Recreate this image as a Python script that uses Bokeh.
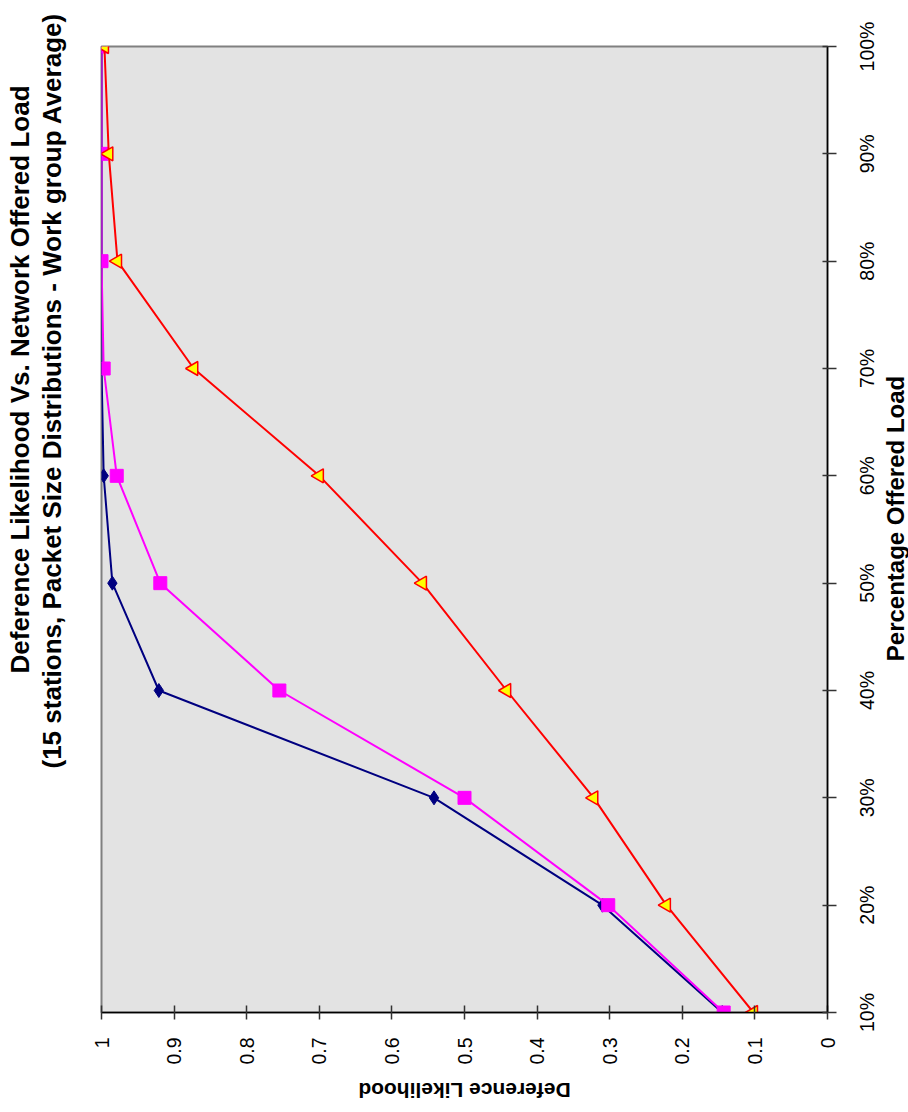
import math
from bokeh.plotting import figure
from bokeh.models import Range1d, FixedTicker, Title, Label
from bokeh.embed import file_html
from bokeh.resources import INLINE

# ---- data ----
offered_load = [10, 20, 30, 40, 50, 60, 70, 80, 90, 100]  # percent
series_a = [0.145, 0.310, 0.542, 0.921, 0.985, 0.997, 1.0, 1.0, 1.0, 1.0]     # navy diamonds
series_b = [0.143, 0.302, 0.500, 0.755, 0.919, 0.979, 0.997, 1.0, 1.0, 1.0]   # magenta squares
series_c = [0.102, 0.222, 0.322, 0.442, 0.558, 0.700, 0.873, 0.978, 0.990, 0.996]  # red triangles

likelihood_ticks = [0, 0.1, 0.2, 0.3, 0.4, 0.5, 0.6, 0.7, 0.8, 0.9, 1.0]
likelihood_labels = ["0", "0.1", "0.2", "0.3", "0.4", "0.5", "0.6", "0.7", "0.8", "0.9", "1"]
load_ticks = [10, 20, 30, 40, 50, 60, 70, 80, 90, 100]
load_labels = ["10%", "20%", "30%", "40%", "50%", "60%", "70%", "80%", "90%", "100%"]

title_line1 = "Deference Likelihood Vs. Network Offered Load"
title_line2 = "(15 stations, Packet Size Distributions - Work group Average)"
x_title = "Deference Likelihood"
y_title = "Percentage Offered Load"

FONT = "Liberation Sans"

p = figure(frame_width=726, frame_height=966,
           x_range=Range1d(1, 0), y_range=Range1d(10, 100),
           x_axis_location="below", y_axis_location="right",
           toolbar_location=None, output_backend="svg",
           min_border_left=101, min_border_right=81,
           min_border_top=46, min_border_bottom=100,
           title=None)

p.background_fill_color = "#E3E3E3"
p.border_fill_color = "white"
p.outline_line_color = "#808080"
p.outline_line_width = 2
p.grid.visible = False

# titles (rotated, on the left); a thin spacer keeps them away from the frame
spacer = Title(text=" ", text_font_size="1px", standoff=32, text_color="white")
t2 = Title(text=title_line2, align="left", offset=244, text_font=FONT,
           text_font_size="26px", text_font_style="bold", text_color="black",
           standoff=0)
t1 = Title(text=title_line1, align="left", offset=339, text_font=FONT,
           text_font_size="26px", text_font_style="bold", text_color="black",
           standoff=0)
p.add_layout(spacer, "left")
p.add_layout(t2, "left")
p.add_layout(t1, "left")

# bottom axis (likelihood, reversed)
xa = p.xaxis[0]
xa.ticker = FixedTicker(ticks=likelihood_ticks)
xa.major_label_overrides = {t: l for t, l in zip(likelihood_ticks, likelihood_labels)}
xa.major_label_orientation = math.pi / 2
xa.major_label_text_font = FONT
xa.major_label_text_font_size = "19.5px"
xa.major_label_text_color = "black"
xa.major_label_standoff = 18
xa.axis_line_color = "black"
xa.axis_line_width = 1.5
xa.major_tick_in = 7
xa.major_tick_out = 7
xa.major_tick_line_color = "#333333"
xa.major_tick_line_width = 1.5
xa.minor_tick_line_color = None

# right axis (offered load); tick labels drawn as centred rotated labels
ya = p.yaxis[0]
ya.ticker = FixedTicker(ticks=load_ticks)
ya.major_label_overrides = {t: "" for t in load_ticks}
ya.axis_line_color = "black"
ya.axis_line_width = 1.5
ya.major_tick_in = 5
ya.major_tick_out = 9
ya.major_tick_line_color = "#333333"
ya.major_tick_line_width = 1.5
ya.minor_tick_line_color = None

for tick, lab in zip(load_ticks, load_labels):
    p.add_layout(Label(x=0.0, y=tick, x_offset=39, text=lab, angle=math.pi / 2,
                       text_align="center", text_baseline="middle", text_font=FONT,
                       text_font_size="19.5px", text_color="black"), "right")

# axis titles (rotated like the rest of the chart)
p.add_layout(Label(x=0.5, y=10, y_offset=-78, text=x_title, angle=math.pi,
                   text_align="center", text_baseline="middle", text_font=FONT,
                   text_font_size="21px", text_font_style="bold", text_color="black"),
             "below")
p.add_layout(Label(x=0.0, y=55, x_offset=68, y_offset=11, text=y_title, angle=math.pi / 2,
                   text_align="center", text_baseline="middle", text_font=FONT,
                   text_font_size="24px", text_font_style="bold", text_color="black"),
             "right")

# series
p.line(series_a, offered_load, line_color="#000080", line_width=2)
p.scatter(series_a, offered_load, marker="diamond", size=14,
          fill_color="#000080", line_color="#000080")

p.line(series_b, offered_load, line_color="#FF00FF", line_width=2)
p.scatter(series_b, offered_load, marker="square", size=13,
          fill_color="#FF00FF", line_color="#FF00FF")

p.line(series_c, offered_load, line_color="#FF0000", line_width=2)
p.scatter(series_c, offered_load, marker="triangle", size=14, angle=math.pi / 2,
          fill_color="#FFFF00", line_color="#FF0000", line_width=1.5)

open("out.html", "w").write(file_html(p, INLINE))
